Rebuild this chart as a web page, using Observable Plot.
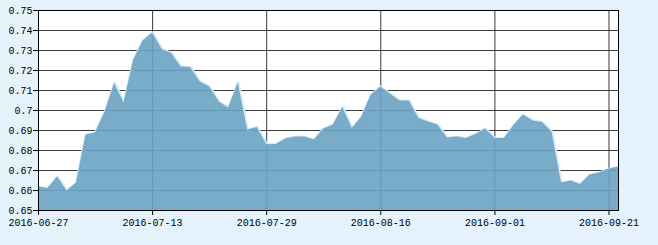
<!DOCTYPE html>
<html>
<head>
<meta charset="utf-8">
<script src="https://cdn.jsdelivr.net/npm/d3@7"></script>
<script src="https://cdn.jsdelivr.net/npm/@observablehq/plot@0.6"></script>
<style>
  html, body { margin: 0; padding: 0; background: #e6f2fb; }
  #chart svg { display: block; }
</style>
</head>
<body>
<div id="chart"></div>
<script>
const dates = [
  "2016-06-27","2016-06-28","2016-06-29","2016-06-30","2016-07-01","2016-07-04","2016-07-05","2016-07-06","2016-07-07","2016-07-08",
  "2016-07-11","2016-07-12","2016-07-13","2016-07-14","2016-07-15","2016-07-18","2016-07-19","2016-07-20","2016-07-21","2016-07-22",
  "2016-07-25","2016-07-26","2016-07-27","2016-07-28","2016-07-29","2016-08-01","2016-08-02","2016-08-03","2016-08-04","2016-08-05",
  "2016-08-08","2016-08-09","2016-08-10","2016-08-11","2016-08-12","2016-08-15","2016-08-16","2016-08-17","2016-08-18","2016-08-19",
  "2016-08-22","2016-08-23","2016-08-24","2016-08-25","2016-08-26","2016-08-29","2016-08-30","2016-08-31","2016-09-01","2016-09-02",
  "2016-09-05","2016-09-06","2016-09-07","2016-09-08","2016-09-09","2016-09-12","2016-09-13","2016-09-14","2016-09-19","2016-09-20",
  "2016-09-21","2016-09-22"
];
const values = [
  0.6618,0.6610,0.6668,0.6598,0.6638,0.6877,0.6888,0.6993,0.7135,0.7038,
  0.7250,0.7348,0.7388,0.7305,0.7285,0.7218,0.7215,0.7143,0.7118,0.7043,
  0.7012,0.7138,0.6902,0.6915,0.6830,0.6830,0.6858,0.6868,0.6868,0.6852,
  0.6908,0.6927,0.7015,0.6910,0.6968,0.7077,0.7118,0.7082,0.7048,0.7048,
  0.6960,0.6943,0.6927,0.6862,0.6868,0.6860,0.6880,0.6907,0.6860,0.6860,
  0.6925,0.6977,0.6948,0.6940,0.6893,0.6638,0.6647,0.6630,0.6677,0.6688,
  0.6707,0.6718
];
const xTickIndex = [0, 12, 24, 36, 48, 60];
const yTicks = [0.65, 0.66, 0.67, 0.68, 0.69, 0.70, 0.71, 0.72, 0.73, 0.74, 0.75];

const data = values.map((v, i) => ({i, date: dates[i], v}));
const font = "'Liberation Mono', 'DejaVu Sans Mono', monospace";
const gridColor = "#3a3a3a";

const chart = Plot.plot({
  width: 658,
  height: 245,
  marginLeft: 38,
  marginRight: 40,
  marginTop: 10,
  marginBottom: 35,
  style: {background: "#e6f2fb", fontFamily: font, fontSize: "10px", color: "#000"},
  x: {type: "linear", domain: [0, dates.length - 1], label: null},
  y: {domain: [0.65, 0.75], label: null},
  marks: [
    Plot.frame({fill: "#ffffff", stroke: null}),
    Plot.ruleY(yTicks, {stroke: gridColor, strokeWidth: 1}),
    Plot.ruleX(xTickIndex, {stroke: gridColor, strokeWidth: 1}),
    Plot.line(data, {x: "i", y: "v", stroke: "#d6ebf8", strokeWidth: 3}),
    Plot.areaY(data, {x: "i", y1: 0.65, y2: "v", fill: "#6aa3c3", fillOpacity: 0.9}),
    Plot.frame({stroke: "#000", strokeWidth: 1}),
    Plot.axisX({
      ticks: xTickIndex,
      tickFormat: i => dates[i],
      tickSize: 5,
      tickPadding: 3,
      label: null,
      fontFamily: font,
      fontSize: 10,
      stroke: "#000",
      fill: "#000"
    }),
    Plot.axisY({
      ticks: yTicks,
      tickFormat: d => String(+d.toFixed(2)),
      tickSize: 5,
      tickPadding: 1,
      label: null,
      fontFamily: font,
      fontSize: 10,
      stroke: "#000",
      fill: "#000"
    })
  ]
});
document.getElementById("chart").appendChild(chart);
</script>
</body>
</html>
